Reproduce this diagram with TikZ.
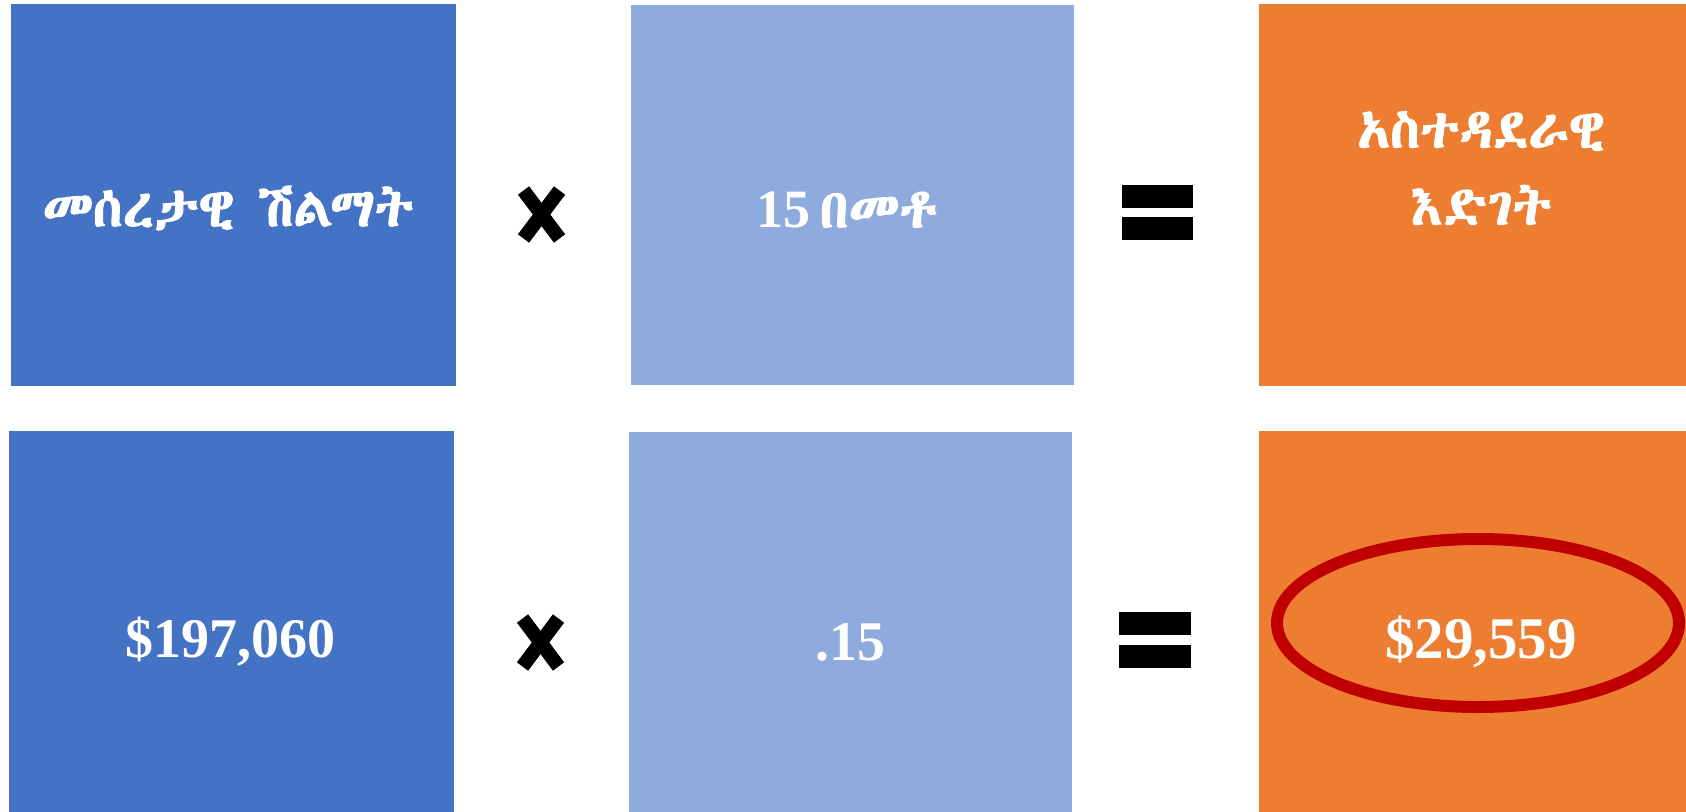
\documentclass[tikz,border=0pt]{standalone}
\usepackage{fontspec}
\usetikzlibrary{shapes.geometric}
\IfFontExistsTF{Abyssinica SIL}{\newfontfamily\ethfont[FakeBold=2]{Abyssinica SIL}}{%
 \IfFontExistsTF{FreeSerif}{\newfontfamily\ethfont[FakeBold=2]{FreeSerif}}{%
  \IfFontExistsTF{Noto Sans Ethiopic}{\newfontfamily\ethfont{Noto Sans Ethiopic}}{%
   \newfontfamily\ethfont{DejaVu Sans}}}}
\newfontfamily\numfont{Liberation Serif}
\definecolor{dblue}{HTML}{4472C4}
\definecolor{lblue}{HTML}{8FAADC}
\definecolor{orng}{HTML}{ED7D31}
\definecolor{ringred}{HTML}{C00000}
\tikzset{
  panel/.style={draw=none, anchor=north west, inner sep=0pt, outer sep=0pt},
  lbl/.style={text=white, inner sep=0pt, align=center},
  eth/.style={lbl, font=\fontsize{54}{77}\selectfont\ethfont},
  num/.style={lbl, font=\fontsize{56}{60}\selectfont\numfont\bfseries},
  timesbar/.style={line width=14, line cap=butt, black},
  eqbar/.style={fill=black, draw=none},
  ring/.style={draw=ringred, line width=12, ellipse, inner sep=0pt}
}
\begin{document}
\begin{tikzpicture}[x=1pt,y=-1pt]
\useasboundingbox (0,0) rectangle (1686,811);
\fill[white] (0,0) rectangle (1686,811);
\clip (0,0) rectangle (1686,811);
% row 1 panels
\node[panel, fill=dblue, minimum width=445, minimum height=382] (b11) at (11,4) {};
\node[panel, fill=lblue, minimum width=443, minimum height=380] (b12) at (631,5) {};
\node[panel, fill=orng, minimum width=445, minimum height=382] (b13) at (1259,4) {};
% row 2 panels
\node[panel, fill=dblue, minimum width=445, minimum height=390] (b21) at (9,431) {};
\node[panel, fill=lblue, minimum width=443, minimum height=390] (b22) at (629,432) {};
\node[panel, fill=orng, minimum width=445, minimum height=390] (b23) at (1259,431) {};
% row 1 texts
\node[eth] (t11) at (228,208) {መሰረታዊ ሽልማት};
\node[eth] (t12) at (847,210) {{\numfont\bfseries 15}\,በመቶ};
\node[eth] (t13) at (1481,168) {አስተዳደራዊ\\እድገት};
% row 2 texts
\node[num] (t21) at (230,642) {\$197,060};
\node[num] (t22) at (850,642) {.15};
\node[num, font=\fontsize{59}{60}\selectfont\numfont\bfseries] (t23) at (1481,642) {\$29,559};
\node[ring, minimum width=402, minimum height=168] (oval) at (1478,623) {};
% operators row 1
\coordinate (x1) at (541.5,214.5);
\draw[timesbar] ([shift={(-18,-24)}]x1) -- ([shift={(18,24)}]x1);
\draw[timesbar] ([shift={(18,-24)}]x1) -- ([shift={(-18,24)}]x1);
\fill[eqbar] (1122,185) rectangle (1193,208);
\fill[eqbar] (1122,217) rectangle (1193,240);
% operators row 2
\coordinate (x2) at (540.5,642.5);
\draw[timesbar] ([shift={(-18,-24)}]x2) -- ([shift={(18,24)}]x2);
\draw[timesbar] ([shift={(18,-24)}]x2) -- ([shift={(-18,24)}]x2);
\fill[eqbar] (1119,612) rectangle (1191,635);
\fill[eqbar] (1119,645) rectangle (1191,668);
\end{tikzpicture}
\end{document}
